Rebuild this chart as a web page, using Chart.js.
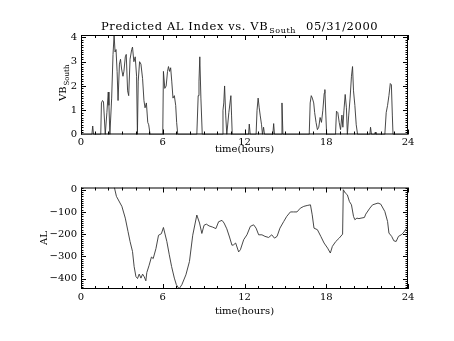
<!DOCTYPE html>
<html>
<head>
<meta charset="utf-8">
<script src="https://cdn.jsdelivr.net/npm/chart.js@4.4.1/dist/chart.umd.min.js"></script>
<style>
  html, body { margin: 0; padding: 0; background: #fff; }
  #wrap { position: relative; width: 454px; height: 341px; }
  .panel { position: absolute; left: 0; width: 454px; }
</style>
</head>
<body>
<div id="wrap">
  <div class="panel" style="top:0;height:170px"><canvas id="vbChart"></canvas></div>
  <div class="panel" style="top:170px;height:171px"><canvas id="alChart"></canvas></div>
</div>
<script>
// VB south (top panel), hours since 00:00 UT
const vbHours = [0, 0.8, 0.86, 0.92, 1.45, 1.5, 1.58, 1.65, 1.78, 1.9, 2.0, 2.05, 2.12,
  2.25, 2.35, 2.43, 2.5, 2.57, 2.65, 2.72, 2.82, 2.9, 2.98, 3.08, 3.15, 3.25, 3.32, 3.42,
  3.5, 3.6, 3.72, 3.78, 3.88, 3.98, 4.08, 4.14, 4.2, 4.3, 4.4, 4.52, 4.62, 4.7, 4.8, 4.9,
  4.97, 5.07, 6.0, 6.05, 6.15, 6.25, 6.35, 6.42, 6.5, 6.58, 6.66, 6.75, 6.85, 6.95, 7.02,
  7.1, 8.5, 8.6, 8.66, 8.72, 8.8, 8.9, 10.35, 10.42, 10.48, 10.54, 10.62, 10.7, 10.85,
  11.0, 11.05, 11.1, 12.3, 12.35, 12.42, 12.85, 12.92, 13.0, 13.08, 13.15, 13.25, 13.32,
  13.4, 13.47, 14.08, 14.14, 14.2, 14.7, 14.75, 14.82, 16.75, 16.82, 16.9, 16.98, 17.08,
  17.15, 17.25, 17.35, 17.45, 17.55, 17.65, 17.75, 17.85, 17.9, 17.97, 18.03, 18.68,
  18.75, 18.85, 18.95, 19.05, 19.15, 19.22, 19.3, 19.39, 19.48, 19.55, 19.65, 19.75,
  19.85, 19.93, 20.0, 20.1, 20.2, 20.3, 21.2, 21.25, 21.32, 21.55, 21.6, 21.65, 22.3,
  22.4, 22.5, 22.6, 22.7, 22.78, 22.85, 22.9, 24];
const vbValues = [0, 0, 0.35, 0, 0, 1.3, 1.4, 1.35, 0, 0.9, 1.75, 1.2, 0,
  1.5, 3.3, 4.1, 3.4, 3.5, 2.6, 1.4, 2.9, 3.1, 2.7, 2.4, 2.6, 3.2, 3.3, 1.8,
  1.6, 3.1, 3.5, 3.6, 3.0, 3.2, 2.4, 0, 2.2, 3.0, 2.9, 2.3, 1.4, 1.1, 1.3, 0.5,
  0.4, 0, 0, 2.6, 1.9, 2.0, 2.6, 2.8, 2.6, 2.75, 2.2, 1.5, 1.6, 1.2, 0.5,
  0, 0, 1.6, 2.2, 3.2, 1.5, 0, 0, 1.0, 1.3, 2.0, 0.8, 0, 0.9,
  1.6, 0.8, 0, 0, 0.43, 0, 0, 1.0, 1.5, 1.1, 0.8, 0.4, 0,
  0.3, 0, 0, 0.45, 0, 0, 1.3, 0, 0, 1.3, 1.6, 1.5, 1.3,
  0.9, 0.5, 0.2, 0.3, 0.7, 0.5, 1.0, 1.7, 1.85, 0.8, 0, 0,
  0.96, 0.9, 0.5, 0.2, 0.8, 0.3, 1.0, 1.65, 1.1, 0, 0.8, 1.5,
  2.4, 2.8, 1.8, 1.2, 0.4, 0, 0, 0.3, 0, 0, 0.1, 0, 0,
  0.9, 1.2, 1.6, 2.1, 2.05, 0.8, 0, 0];

// predicted AL index (bottom panel)
const alHours = [2.45, 2.6, 3.0, 3.25, 3.45, 3.6, 3.78, 3.9, 4.03, 4.15, 4.27, 4.4, 4.52,
  4.64, 4.76, 4.83, 5.0, 5.17, 5.3, 5.5, 5.69, 5.9, 6.05, 6.3, 6.48, 6.65, 6.85, 7.0, 7.2,
  7.4, 7.7, 7.96, 8.2, 8.5, 8.7, 8.87, 9.03, 9.2, 9.4, 9.65, 9.9, 10.1, 10.35, 10.5, 10.7,
  10.9, 11.08, 11.2, 11.35, 11.57, 11.7, 11.94, 12.18, 12.43, 12.67, 12.85, 13.04, 13.28,
  13.5, 13.77, 14.0, 14.2, 14.39, 14.6, 14.88, 15.1, 15.37, 15.6, 15.85, 16.1, 16.35,
  16.6, 16.84, 16.97, 17.1, 17.35, 17.6, 17.84, 18.1, 18.3, 18.45, 18.7, 18.95, 19.2,
  19.25, 19.4, 19.55, 19.7, 19.85, 20.0, 20.1, 20.25, 20.4, 20.55, 20.8, 20.9, 21.2, 21.4,
  21.8, 22.0, 22.3, 22.5, 22.6, 22.8, 22.96, 23.13, 23.3, 23.5, 23.65, 23.9, 24.0];
const alValues = [10, -30, -75, -128, -188, -233, -278, -346, -391, -400, -380, -398, -380,
  -392, -410, -373, -340, -303, -310, -265, -205, -198, -170, -233, -293, -346, -398, -428, -446,
  -428, -383, -323, -205, -114, -150, -197, -160, -155, -163, -168, -175, -144, -138, -150, -176,
  -213, -250, -248, -240, -280, -270, -225, -203, -165, -158, -173, -203, -203,
  -210, -215, -203, -218, -210, -173, -143, -120, -100, -100, -100, -83, -75,
  -71, -68, -113, -173, -180, -210, -240, -263, -285, -255, -233, -218, -200,
  0, -15, -23, -53, -68, -120, -135, -128, -130, -128, -125, -110, -83, -68,
  -60, -65, -98, -143, -195, -210, -230, -233, -210, -203, -195, -173, -165];

const hourTicks = [0, 6, 12, 18, 24];
const vbTicks = [0, 1, 2, 3, 4];
const alTicks = [-400, -300, -200, -100, 0];

const FONT = 'DejaVu Serif';
const tickFont = { family: FONT, size: 10 };

// IDL style frame: box with inward major and minor ticks on all four sides
const idlFrame = {
  id: 'idlFrame',
  afterDatasetsDraw(chart, args, o) {
    const { ctx, chartArea: a, scales: { x, y } } = chart;
    ctx.save();
    ctx.strokeStyle = '#000';
    ctx.lineWidth = 1;
    ctx.strokeRect(a.left + 0.5, a.top + 0.5, a.right - a.left - 1, a.bottom - a.top - 1);
    ctx.beginPath();
    for (let h = 0; h <= 24; h++) {
      const px = Math.round(x.getPixelForValue(h)) + 0.5;
      const len = h % 6 === 0 ? 5 : 3;
      ctx.moveTo(px, a.bottom); ctx.lineTo(px, a.bottom - len);
      ctx.moveTo(px, a.top); ctx.lineTo(px, a.top + len);
    }
    for (let k = o.kFrom; k <= o.kTo; k++) {
      const v = k * o.minor;
      const py = Math.round(y.getPixelForValue(v)) + 0.5;
      if (py < a.top || py > a.bottom) continue;
      const len = k % o.per === 0 ? 5 : 2.5;
      ctx.moveTo(a.left, py); ctx.lineTo(a.left + len, py);
      ctx.moveTo(a.right, py); ctx.lineTo(a.right - len, py);
    }
    ctx.stroke();
    ctx.restore();
  }
};

// text with a subscript part, optionally rotated
function drawSub(ctx, x, y, main, sub, size, rot) {
  ctx.save();
  ctx.translate(x, y);
  if (rot) ctx.rotate(rot);
  ctx.fillStyle = '#000';
  ctx.textBaseline = 'alphabetic';
  ctx.textAlign = 'left';
  ctx.font = size + 'px "' + FONT + '"';
  ctx.fillText(main, 0, 0);
  const w = ctx.measureText(main).width;
  ctx.font = Math.round(size * 0.68) + 'px "' + FONT + '"';
  ctx.fillText(sub, w + 1, size * 0.3);
  ctx.restore();
}

const labels = {
  id: 'labels',
  afterDraw(chart, args, o) {
    const ctx = chart.ctx;
    if (o.which === 'vb') {
      ctx.save();
      ctx.letterSpacing = '0.6px';
      drawSub(ctx, 101, 30, 'Predicted AL Index vs. VB', 'South', 11.5, 0);
      ctx.font = '11.5px "' + FONT + '"';
      ctx.fillText('05/31/2000', 306, 30);
      ctx.restore();
      drawSub(ctx, 66, 101, 'VB', 'South', 10, -Math.PI / 2);
    } else {
      ctx.save();
      ctx.translate(47, 68);
      ctx.rotate(-Math.PI / 2);
      ctx.font = '10px "' + FONT + '"';
      ctx.textAlign = 'center';
      ctx.fillStyle = '#000';
      ctx.fillText('AL', 0, 0);
      ctx.restore();
    }
  }
};

function panel(id, hours, values, yMin, yMax, yTicks, topPad, xHeight, titlePad, frameOpts, which) {
  return new Chart(document.getElementById(id), {
    type: 'line',
    data: {
      datasets: [{
        data: hours.map((h, i) => ({ x: h, y: values[i] })),
        borderColor: '#333',
        borderWidth: 0.9,
        pointRadius: 0,
        tension: 0,
        fill: false
      }]
    },
    options: {
      responsive: true,
      maintainAspectRatio: false,
      animation: false,
      events: [],
      layout: { padding: { left: 0, right: 46, top: topPad, bottom: 0 } },
      plugins: {
        legend: { display: false },
        tooltip: { enabled: false },
        idlFrame: frameOpts,
        labels: { which }
      },
      scales: {
        x: {
          type: 'linear', min: 0, max: 24,
          afterBuildTicks: s => { s.ticks = hourTicks.map(v => ({ value: v })); },
          ticks: { font: tickFont, color: '#000', padding: 2, maxRotation: 0, autoSkip: false },
          grid: { display: false, drawTicks: false },
          border: { display: false },
          title: { display: true, text: 'time(hours)', font: tickFont, color: '#000',
                   padding: { top: 0, bottom: titlePad } },
          afterFit: s => { s.height = xHeight; }
        },
        y: {
          type: 'linear', min: yMin, max: yMax,
          afterBuildTicks: s => { s.ticks = yTicks.map(v => ({ value: v })); },
          ticks: { font: tickFont, color: '#000', padding: 4,
                   callback: v => String(v).replace('-', '\u2212') },
          grid: { display: false, drawTicks: false },
          border: { display: false },
          afterFit: s => { s.width = 81; }
        }
      }
    },
    plugins: [idlFrame, labels]
  });
}

panel('vbChart', vbHours, vbValues, 0, 4.1, vbTicks, 35, 35.5, 15,
      { kFrom: 0, kTo: 41, minor: 0.1, per: 10 }, 'vb');
panel('alChart', alHours, alValues, -447, 10, alTicks, 17.5, 52, 24,
      { kFrom: -44, kTo: 1, minor: 10, per: 10 }, 'al');
</script>
</body>
</html>
